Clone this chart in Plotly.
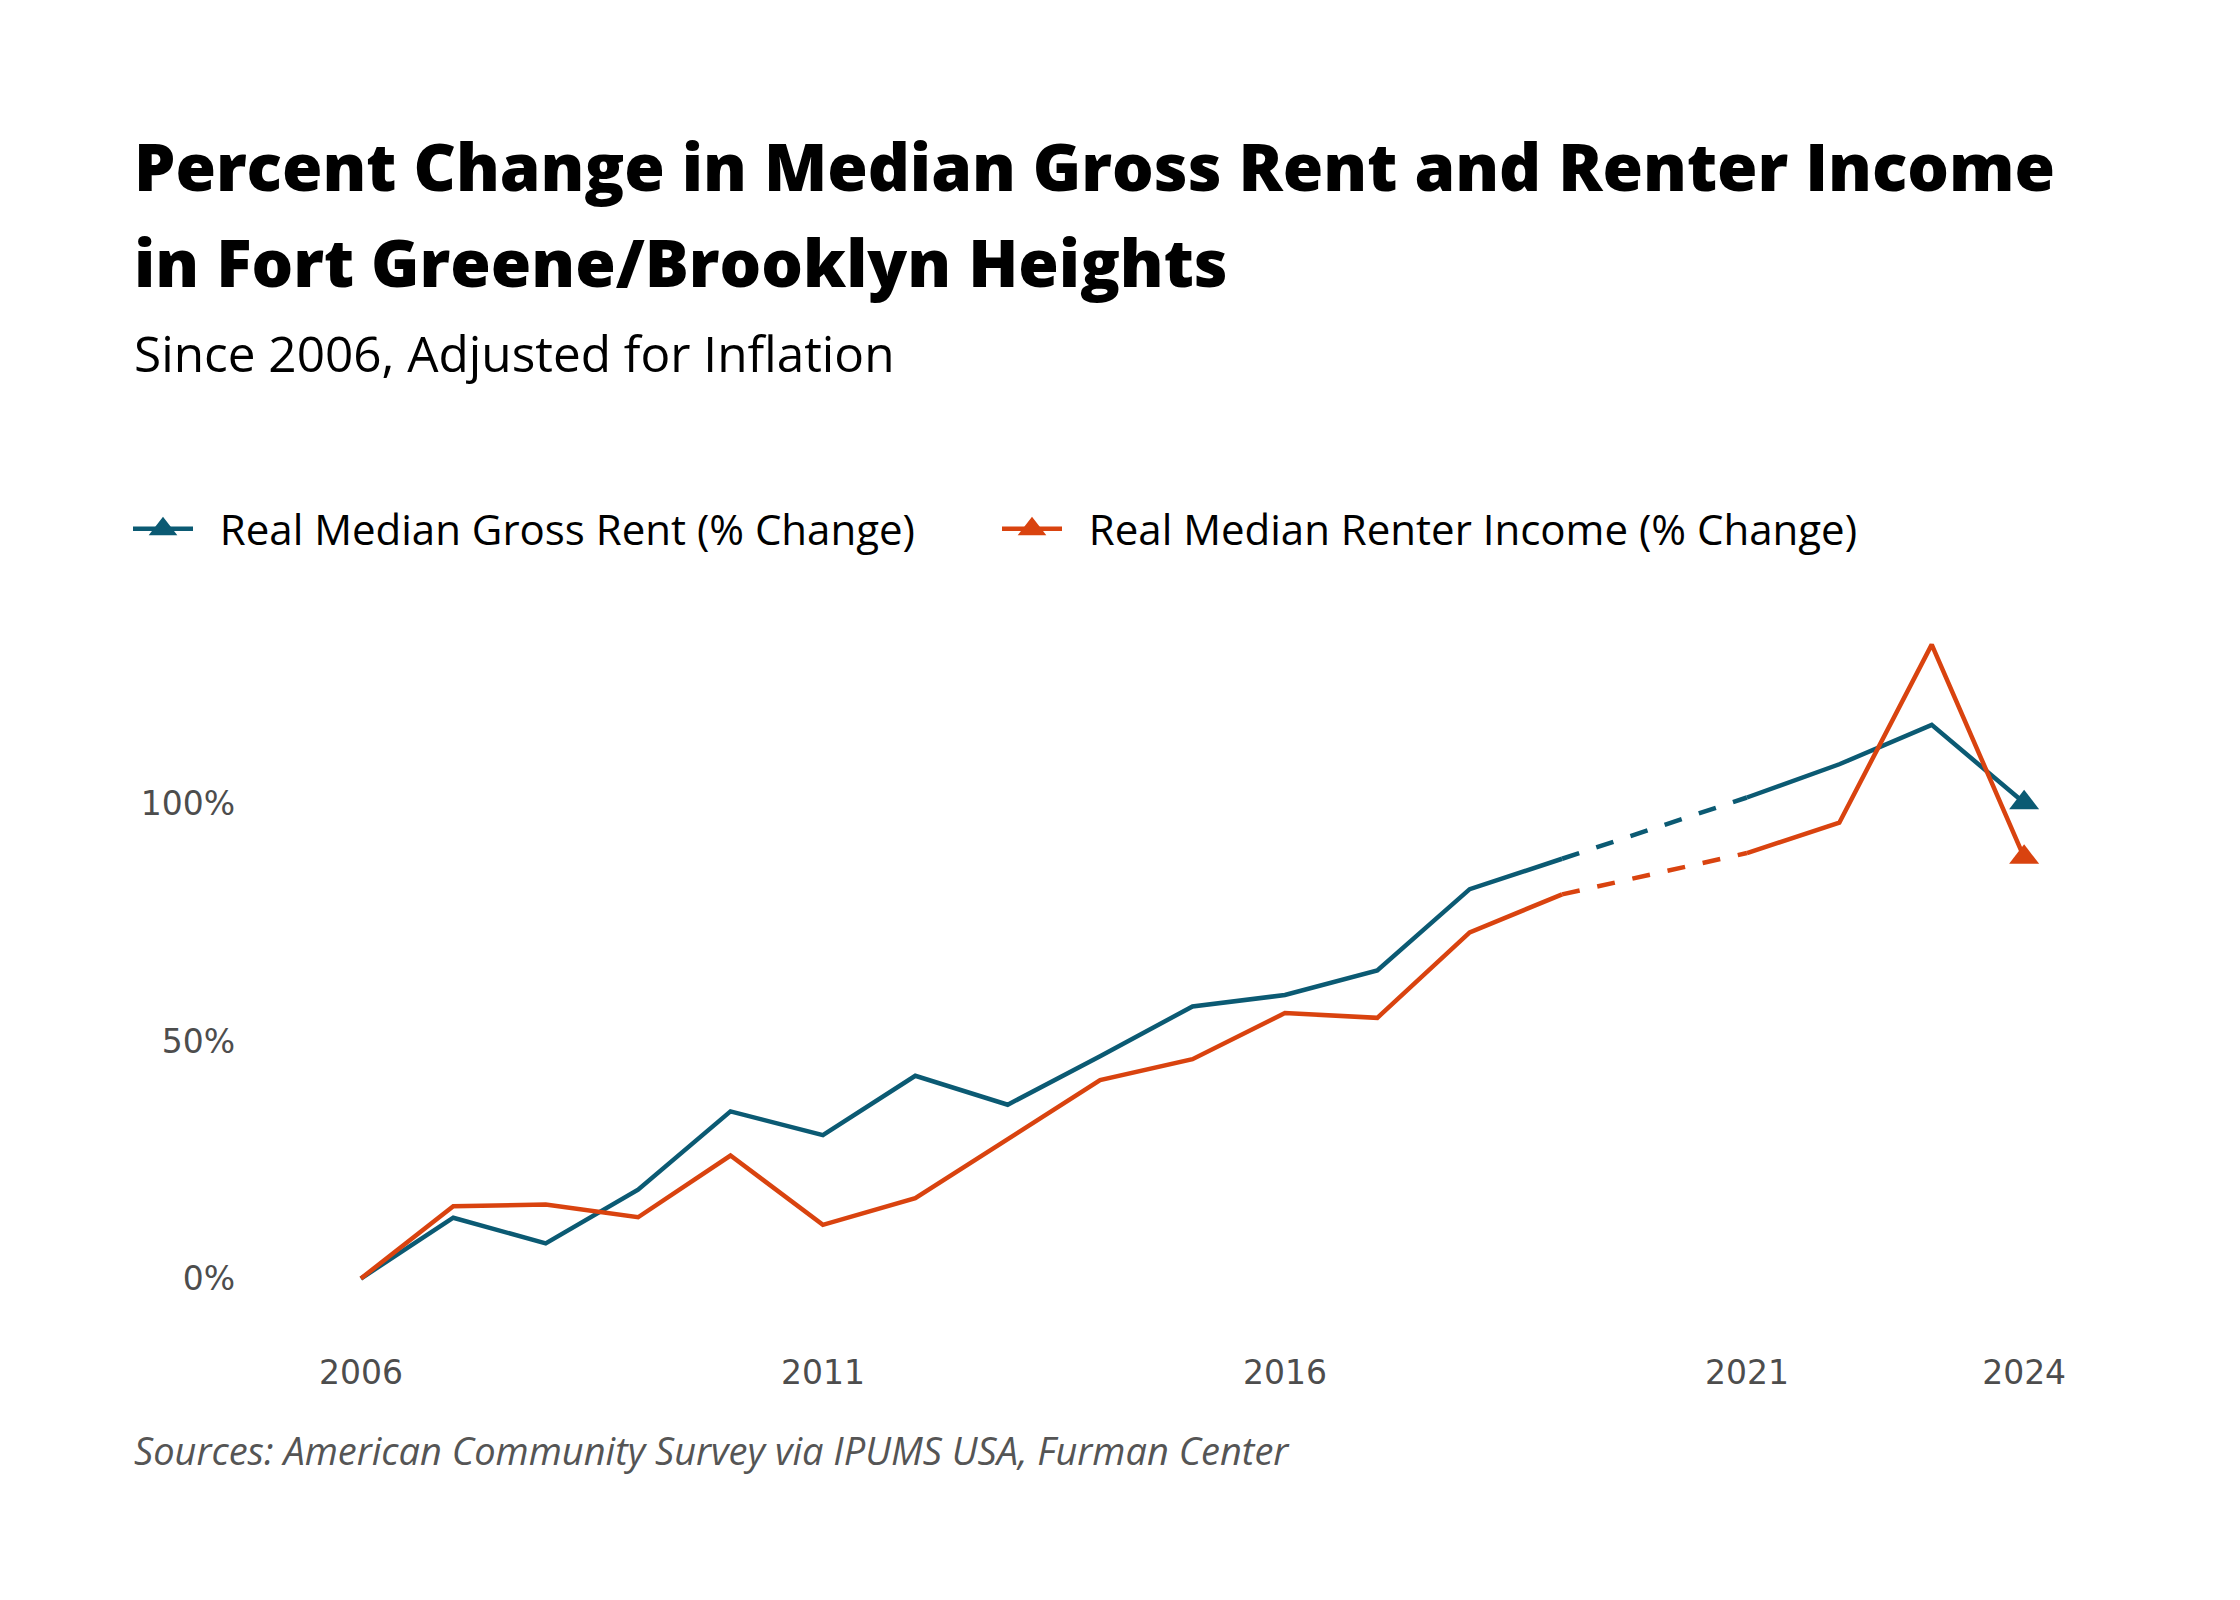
import plotly.graph_objects as go

# data (2020 has no ACS release)
years = list(range(2006, 2025))
rent_pct = [0, 12.8, 7.4, 18.7, 35.2, 30.2, 42.7, 36.6, 46.8, 57.3, 59.7, 64.9,
            82.0, 88.4, None, 101.3, 108.3, 116.6, 100.2]
income_pct = [0, 15.2, 15.6, 12.9, 25.9, 11.3, 16.9, 29.3, 41.8, 46.2, 55.9, 54.9,
              72.9, 80.9, None, 89.6, 96.0, 133.5, 88.7]
x_ticks = [2006, 2011, 2016, 2021, 2024]
y_ticks = [0, 50, 100]
y_labels = ["0%", "50%", "100%"]

names = {"rent": "Real Median Gross Rent (% Change)",
         "income": "Real Median Renter Income (% Change)"}
colours = {"rent": "#0b5a73", "income": "#d9430f"}

W, H = 2240, 1600
OFF = 8  # page body margin
M = dict(l=242, r=113, t=582, b=282)
PW = W - M["l"] - M["r"]
PH = H - M["t"] - M["b"]


def px_x(px):
    return (px - OFF - M["l"]) / PW


def px_y(py):
    return (M["t"] + PH - (py - OFF)) / PH


def gap_segment(vals):
    # endpoints either side of the missing year, drawn dashed
    i = vals.index(None)
    return [years[i - 1], years[i + 1]], [vals[i - 1], vals[i + 1]]


fig = go.Figure()

for key, vals in (("rent", rent_pct), ("income", income_pct)):
    col = colours[key]
    fig.add_trace(go.Scatter(x=years, y=vals, mode="lines", connectgaps=False,
                             line=dict(color=col, width=4.5), showlegend=False))
    gx, gy = gap_segment(vals)
    fig.add_trace(go.Scatter(x=gx, y=gy, mode="lines",
                             line=dict(color=col, width=4.5, dash="18px,18px"),
                             showlegend=False))
    fig.add_trace(go.Scatter(x=years[-1:], y=vals[-1:], mode="markers",
                             marker=dict(symbol="triangle-up", size=26, color=col),
                             showlegend=False))
    # legend-only entry
    fig.add_trace(go.Scatter(x=[None], y=[None], mode="lines+markers",
                             name="\u00a0\u00a0" + names[key],
                             line=dict(color=col, width=4.5),
                             marker=dict(symbol="triangle-up", size=16, color=col,
                                         line=dict(color=col, width=5))))

tick_font = dict(size=33, family="DejaVu Sans", color="#4d4d4d")

fig.update_layout(
    width=W, height=H, margin=M,
    paper_bgcolor="white", plot_bgcolor="white",
    font=dict(family="Open Sans", color="#000000"),
    legend=dict(orientation="h", x=px_x(128), y=px_y(529), xanchor="left", yanchor="middle",
                font=dict(size=42, family="Open Sans", color="#000000"),
                itemwidth=60, entrywidth=794, tracegroupgap=0),
    xaxis=dict(range=[2004.8, 2025.2], tickvals=x_ticks, showgrid=False, zeroline=False,
               showline=False, ticks="", ticklabelstandoff=24, tickfont=tick_font),
    yaxis=dict(range=[-10, 145], tickvals=y_ticks, ticktext=y_labels, showgrid=False,
               zeroline=False, showline=False, ticks="", ticklabelstandoff=14,
               tickfont=tick_font),
)

notes = [
    ("Percent Change in Median Gross Rent and Renter Income", 165, 65.5, 800, "normal", "#000000"),
    ("in Fort Greene/Brooklyn Heights", 261, 65.5, 800, "normal", "#000000"),
    ("Since 2006, Adjusted for Inflation", 353, 49.5, 400, "normal", "#000000"),
    ("Sources: American Community Survey via IPUMS USA, Furman Center", 1450, 38, 400, "italic", "#555555"),
]
for text, yc, size, weight, style, colr in notes:
    fig.add_annotation(text=text, xref="paper", yref="paper", x=px_x(132), y=px_y(yc),
                       xanchor="left", yanchor="middle", showarrow=False,
                       font=dict(size=size, family="Open Sans", weight=weight, style=style, color=colr))

fig.write_html("out.html")
